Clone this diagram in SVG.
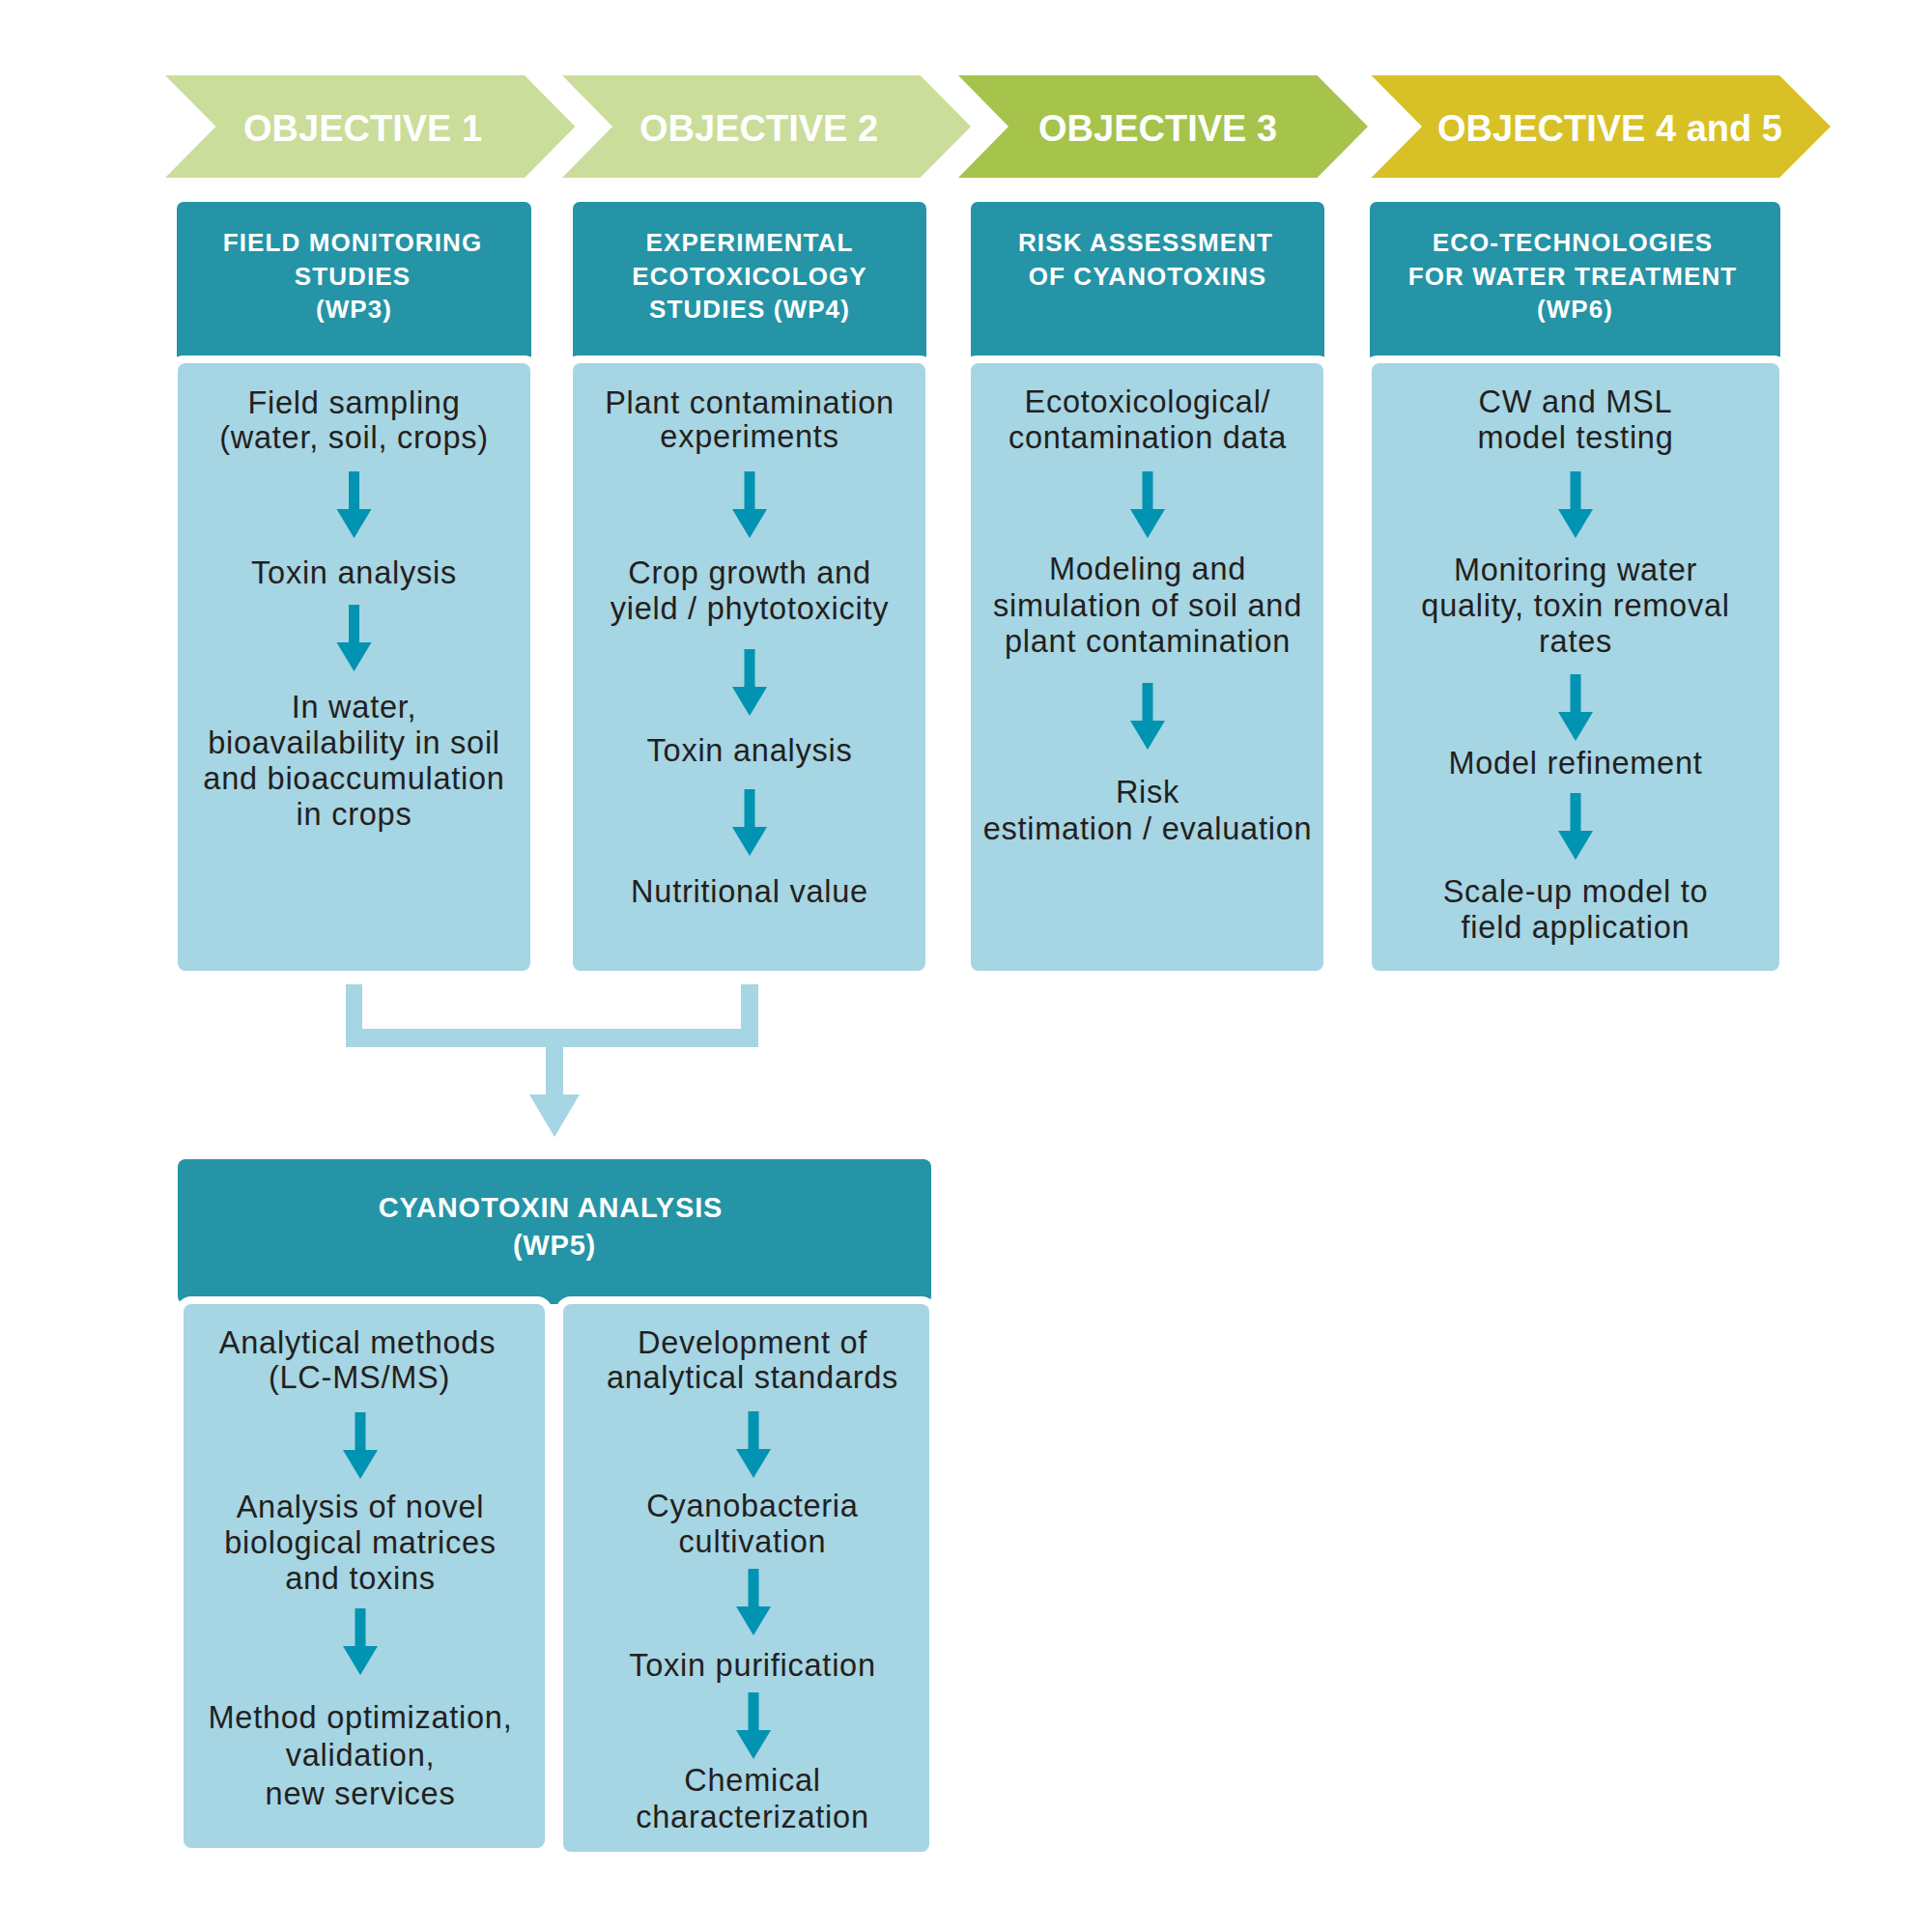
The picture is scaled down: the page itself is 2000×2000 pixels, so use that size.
<svg xmlns="http://www.w3.org/2000/svg" xmlns:xlink="http://www.w3.org/1999/xlink" width="2000" height="2000" viewBox="0 0 2000 2000">
<style>
.obj{font-family:"Liberation Sans",Arial,sans-serif;font-weight:bold;font-size:38px;fill:#ffffff}
.hd{font-family:"Liberation Sans",Arial,sans-serif;font-weight:bold;font-size:26px;fill:#ffffff;text-anchor:middle;letter-spacing:1.1px}
.hd5{font-family:"Liberation Sans",Arial,sans-serif;font-weight:bold;font-size:29px;fill:#ffffff;text-anchor:middle;letter-spacing:0.8px}
.bt{font-family:"Liberation Sans",Arial,sans-serif;font-size:32.5px;fill:#231f20;text-anchor:middle;letter-spacing:0.75px}
.head{fill:#2494a6}
.box{fill:#a6d5e3}
.back{fill:#ffffff}
.arr{fill:#0093b2}
.conn{fill:#a6d5e3}
</style>
<defs>
<path id="arr" d="M-5.5,0 H5.5 V39 H18 L0,69 L-18,39 H-5.5 Z"/>
</defs>
<rect width="2000" height="2000" fill="#ffffff"/>

<g id="objective1">
<polygon points="171,78 543,78 595.5,131 543,184 171,184 223.5,131" fill="#cadd9b"/>
<text class="obj" x="252" y="146">OBJECTIVE 1</text>
</g>
<g id="objective2">
<polygon points="582,78 952.5,78 1005,131 952.5,184 582,184 634,131" fill="#cadd9b"/>
<text class="obj" x="662" y="146">OBJECTIVE 2</text>
</g>
<g id="objective3">
<polygon points="992,78 1363.5,78 1416,131 1363.5,184 992,184 1044,131" fill="#a6c34c"/>
<text class="obj" x="1075" y="146">OBJECTIVE 3</text>
</g>
<g id="objective45">
<polygon points="1419.5,78 1842,78 1895,131 1842,184 1419.5,184 1472,131" fill="#d7c126"/>
<text class="obj" x="1488" y="146">OBJECTIVE 4 and 5</text>
</g>

<g id="wp3">
<rect class="head" x="183" y="209" width="367" height="166" rx="7"/>
<rect class="back" x="176" y="368" width="381" height="645" rx="14"/>
<rect class="box" x="184" y="376" width="365" height="629" rx="8"/>
<text class="hd" x="365" y="260">FIELD MONITORING</text>
<text class="hd" x="365" y="295">STUDIES</text>
<text class="hd" x="366.5" y="329">(WP3)</text>
<text class="bt" x="366.5" y="428">Field sampling</text>
<text class="bt" x="366.5" y="464">(water, soil, crops)</text>
<text class="bt" x="366.5" y="604">Toxin analysis</text>
<text class="bt" x="366.5" y="743">In water,</text>
<text class="bt" x="366.5" y="780">bioavailability in soil</text>
<text class="bt" x="366.5" y="817">and bioaccumulation</text>
<text class="bt" x="366.5" y="854">in crops</text>
</g>

<g id="wp4">
<rect class="head" x="593" y="209" width="366" height="166" rx="7"/>
<rect class="back" x="585" y="368" width="381" height="645" rx="14"/>
<rect class="box" x="593" y="376" width="365" height="629" rx="8"/>
<text class="hd" x="776" y="260">EXPERIMENTAL</text>
<text class="hd" x="776" y="295">ECOTOXICOLOGY</text>
<text class="hd" x="776" y="329">STUDIES (WP4)</text>
<text class="bt" x="776" y="428">Plant contamination</text>
<text class="bt" x="776" y="463">experiments</text>
<text class="bt" x="776" y="604">Crop growth and</text>
<text class="bt" x="776" y="641">yield / phytotoxicity</text>
<text class="bt" x="776" y="788">Toxin analysis</text>
<text class="bt" x="776" y="934">Nutritional value</text>
</g>

<g id="risk">
<rect class="head" x="1005" y="209" width="366" height="166" rx="7"/>
<rect class="back" x="997" y="368" width="381" height="645" rx="14"/>
<rect class="box" x="1005" y="376" width="365" height="629" rx="8"/>
<text class="hd" x="1186" y="260">RISK ASSESSMENT</text>
<text class="hd" x="1188" y="295">OF CYANOTOXINS</text>
<text class="bt" x="1188" y="427">Ecotoxicological/</text>
<text class="bt" x="1188" y="464">contamination data</text>
<text class="bt" x="1188" y="600">Modeling and</text>
<text class="bt" x="1188" y="638">simulation of soil and</text>
<text class="bt" x="1188" y="675">plant contamination</text>
<text class="bt" x="1188" y="831">Risk</text>
<text class="bt" x="1188" y="869">estimation / evaluation</text>
</g>

<g id="wp6">
<rect class="head" x="1418" y="209" width="425" height="166" rx="7"/>
<rect class="back" x="1412" y="368" width="438" height="645" rx="14"/>
<rect class="box" x="1420" y="376" width="422" height="629" rx="8"/>
<text class="hd" x="1628" y="260">ECO-TECHNOLOGIES</text>
<text class="hd" x="1628" y="295">FOR WATER TREATMENT</text>
<text class="hd" x="1630.5" y="329">(WP6)</text>
<text class="bt" x="1631" y="427">CW and MSL</text>
<text class="bt" x="1631" y="464">model testing</text>
<text class="bt" x="1631" y="601">Monitoring water</text>
<text class="bt" x="1631" y="638">quality, toxin removal</text>
<text class="bt" x="1631" y="675">rates</text>
<text class="bt" x="1631" y="801">Model refinement</text>
<text class="bt" x="1631" y="934">Scale-up model to</text>
<text class="bt" x="1631" y="971">field application</text>
</g>

<g id="wp5">
<rect class="head" x="184" y="1200" width="780" height="150" rx="8"/>
<rect class="back" x="182" y="1342" width="390" height="579" rx="16"/>
<rect class="back" x="575" y="1342" width="395" height="583" rx="16"/>
<rect class="box" x="190" y="1350" width="374" height="563" rx="8"/>
<rect class="box" x="583" y="1350" width="379" height="567" rx="8"/>
<text class="hd5" x="570" y="1260">CYANOTOXIN ANALYSIS</text>
<text class="hd5" x="574" y="1299">(WP5)</text>
<text class="bt" x="370" y="1401">Analytical methods</text>
<text class="bt" x="372" y="1437">(LC-MS/MS)</text>
<text class="bt" x="373" y="1571">Analysis of novel</text>
<text class="bt" x="373" y="1608">biological matrices</text>
<text class="bt" x="373" y="1645">and toxins</text>
<text class="bt" x="373" y="1789">Method optimization,</text>
<text class="bt" x="373" y="1828">validation,</text>
<text class="bt" x="373" y="1868">new services</text>
<text class="bt" x="779" y="1401">Development of</text>
<text class="bt" x="779" y="1437">analytical standards</text>
<text class="bt" x="779" y="1570">Cyanobacteria</text>
<text class="bt" x="779" y="1607">cultivation</text>
<text class="bt" x="779" y="1735">Toxin purification</text>
<text class="bt" x="779" y="1854">Chemical</text>
<text class="bt" x="779" y="1892">characterization</text>
</g>

<g id="connectors">
<path class="conn" d="M358,1019 H375 V1065 H767 V1019 H785 V1084 H583 V1133 H600 L574,1177 L548,1133 H565 V1084 H358 Z"/>
<g class="arr">
<use xlink:href="#arr" x="366.5" y="488"/>
<use xlink:href="#arr" x="366.5" y="626"/>
<use xlink:href="#arr" x="776" y="488"/>
<use xlink:href="#arr" x="776" y="672"/>
<use xlink:href="#arr" x="776" y="817"/>
<use xlink:href="#arr" x="1188" y="488"/>
<use xlink:href="#arr" x="1188" y="707"/>
<use xlink:href="#arr" x="1631" y="488"/>
<use xlink:href="#arr" x="1631" y="698"/>
<use xlink:href="#arr" x="1631" y="821"/>
<use xlink:href="#arr" x="373" y="1462"/>
<use xlink:href="#arr" x="373" y="1665"/>
<use xlink:href="#arr" x="780" y="1461"/>
<use xlink:href="#arr" x="780" y="1624"/>
<use xlink:href="#arr" x="780" y="1752"/>
</g>
</g>
</svg>
